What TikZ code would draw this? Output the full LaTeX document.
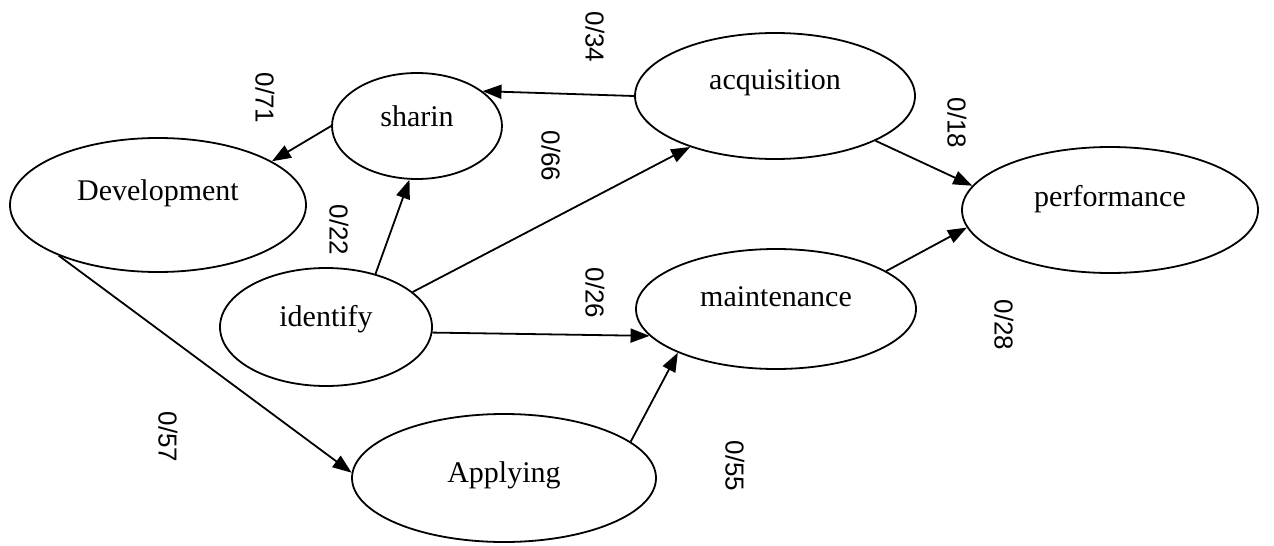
\documentclass[tikz,border=0pt]{standalone}
\usepackage{fontspec}
\setmainfont{Liberation Serif}
\newfontfamily\labfont{Liberation Sans}
\usetikzlibrary{shapes.geometric,arrows.meta}
\tikzset{
  st/.style={ellipse, draw, line width=1.8pt, inner sep=0pt, font=\fontsize{30}{30}\selectfont},
  conn/.style={line width=1.8pt, -{Triangle[length=19pt,width=14pt]}},
  lab/.style={font=\labfont\fontsize{26}{26}\selectfont, rotate=-90, inner sep=0pt}
}
\newcommand{\up}[2]{\raisebox{#1pt}{#2}}
\begin{document}
\begin{tikzpicture}[x=1pt,y=-1pt]
\useasboundingbox (0,0) rectangle (1274,546);
\node[st, minimum width=296pt, minimum height=134pt] (dev) at (158,205) {\up{29}{Development}};
\node[st, minimum width=170pt, minimum height=106pt] (sha) at (417,126) {\up{19}{sharin}};
\node[st, minimum width=280pt, minimum height=126pt] (acq) at (775,96) {\up{32}{acquisition}};
\node[st, minimum width=296pt, minimum height=126pt] (per) at (1110,210) {\up{28}{performance}};
\node[st, minimum width=212pt, minimum height=118pt] (ide) at (326,327) {\up{22}{identify}};
\node[st, minimum width=280pt, minimum height=120pt] (mai) at (776,309) {\up{24}{maintenance}};
\node[st, minimum width=304pt, minimum height=128pt] (app) at (504,478) {\up{12}{Applying}};

\draw[conn] (acq.180) -- (sha.28.6);
\draw[conn] (sha.180) -- (dev.21.5);
\draw[conn] (ide.47.9) -- (sha.262.3);
\draw[conn] (ide.22.1) -- (acq.211.5);
\draw[conn] (ide.357.3) -- (mai.192.8);
\draw[conn] (dev.207) -- (app.178.4);
\draw[conn] (app.16) -- (mai.204.6);
\draw[conn] (acq.336.3) -- (per.170.7);
\draw[conn] (mai.19.4) -- (per.187.3);

\node[lab] (l71) at (265,98) {0/71};
\node[lab] (l34) at (595,37) {0/34};
\node[lab] (l18) at (957,123) {0/18};
\node[lab] (l66) at (551,156) {0/66};
\node[lab] (l22) at (339,230) {0/22};
\node[lab] (l26) at (595,293) {0/26};
\node[lab] (l28) at (1004,325) {0/28};
\node[lab] (l57) at (168,437) {0/57};
\node[lab] (l55) at (735,466) {0/55};
\end{tikzpicture}
\end{document}
